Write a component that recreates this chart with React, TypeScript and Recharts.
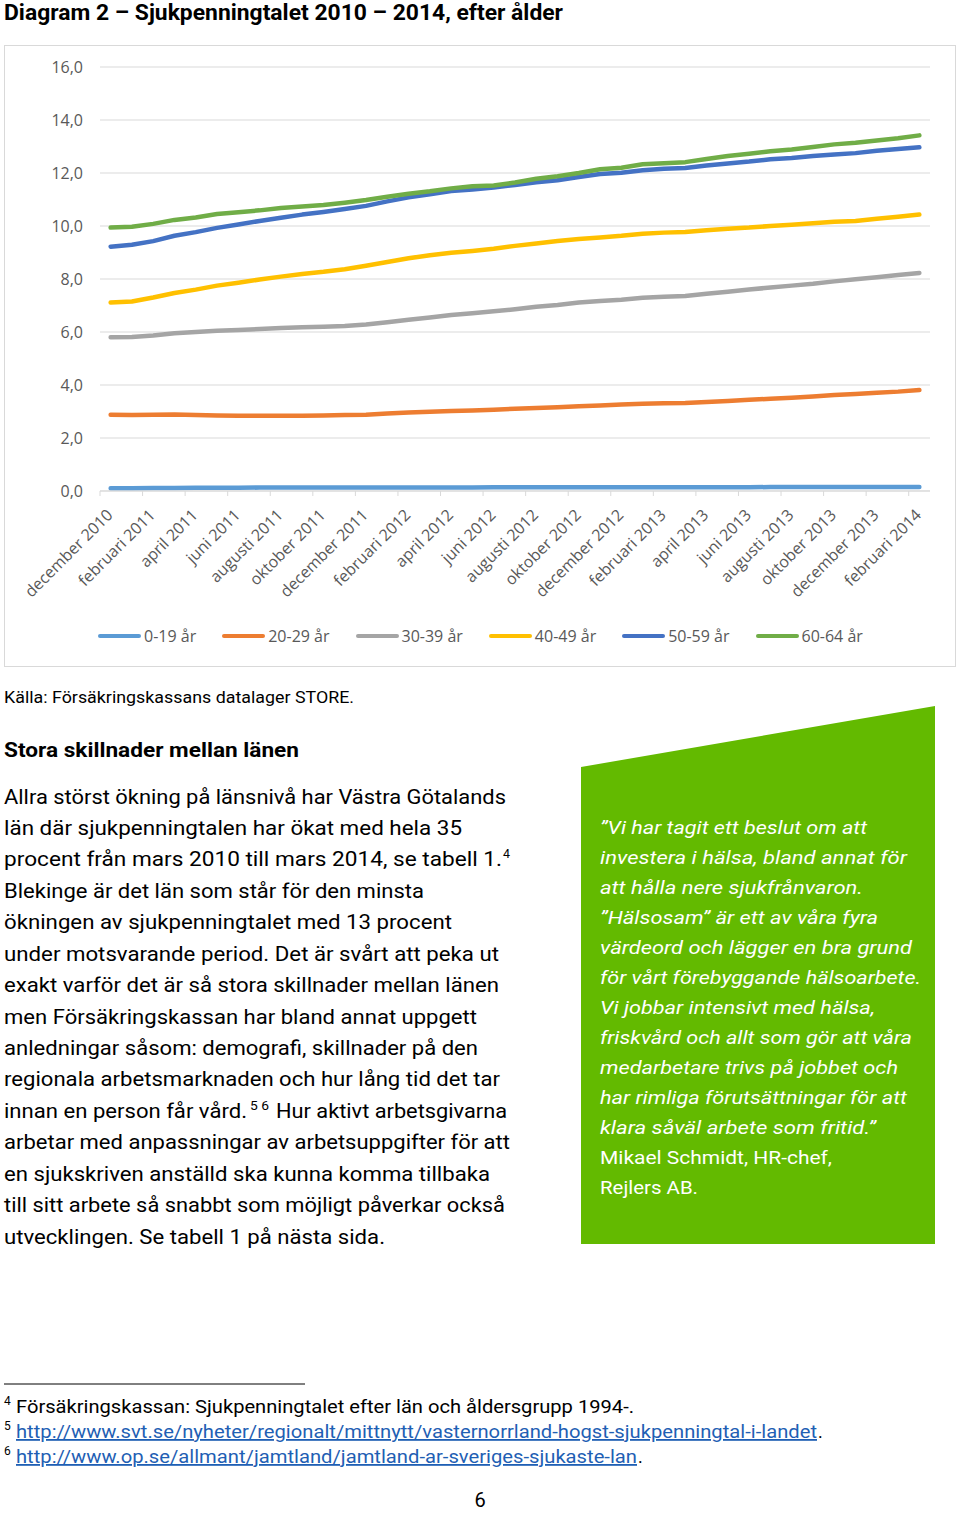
import React from 'react';
import { LineChart, Line, XAxis, YAxis, CartesianGrid, Legend } from 'recharts';

const months = [
  'december 2010', 'januari 2011', 'februari 2011', 'mars 2011', 'april 2011', 'maj 2011', 'juni 2011', 'juli 2011',
  'augusti 2011', 'september 2011', 'oktober 2011', 'november 2011', 'december 2011', 'januari 2012', 'februari 2012',
  'mars 2012', 'april 2012', 'maj 2012', 'juni 2012', 'juli 2012', 'augusti 2012', 'september 2012', 'oktober 2012',
  'november 2012', 'december 2012', 'januari 2013', 'februari 2013', 'mars 2013', 'april 2013', 'maj 2013', 'juni 2013',
  'juli 2013', 'augusti 2013', 'september 2013', 'oktober 2013', 'november 2013', 'december 2013', 'januari 2014',
  'februari 2014',
];

const age0_19 = [0.10, 0.10, 0.11, 0.11, 0.12, 0.12, 0.12, 0.13, 0.13, 0.13, 0.13, 0.13, 0.13, 0.13, 0.13, 0.13, 0.13, 0.13, 0.14, 0.14, 0.14, 0.14, 0.14, 0.14, 0.14, 0.14, 0.14, 0.14, 0.14, 0.14, 0.14, 0.15, 0.15, 0.15, 0.15, 0.15, 0.15, 0.15, 0.15];
const age20_29 = [2.88, 2.87, 2.88, 2.89, 2.87, 2.85, 2.84, 2.84, 2.84, 2.84, 2.85, 2.87, 2.88, 2.92, 2.96, 2.99, 3.02, 3.04, 3.07, 3.10, 3.13, 3.16, 3.20, 3.23, 3.26, 3.29, 3.31, 3.32, 3.36, 3.40, 3.44, 3.48, 3.52, 3.57, 3.62, 3.66, 3.71, 3.75, 3.81];
const age30_39 = [5.80, 5.81, 5.87, 5.95, 6.00, 6.05, 6.08, 6.11, 6.15, 6.18, 6.20, 6.23, 6.28, 6.37, 6.46, 6.55, 6.64, 6.71, 6.78, 6.86, 6.95, 7.02, 7.11, 7.17, 7.22, 7.29, 7.33, 7.36, 7.44, 7.52, 7.60, 7.68, 7.75, 7.82, 7.91, 7.99, 8.07, 8.15, 8.23];
const age40_49 = [7.11, 7.15, 7.30, 7.47, 7.60, 7.75, 7.86, 7.98, 8.09, 8.19, 8.27, 8.37, 8.50, 8.64, 8.78, 8.90, 8.99, 9.06, 9.14, 9.25, 9.34, 9.43, 9.51, 9.57, 9.63, 9.71, 9.75, 9.77, 9.84, 9.90, 9.94, 10.00, 10.05, 10.10, 10.16, 10.19, 10.27, 10.35, 10.43];
const age50_59 = [9.22, 9.29, 9.43, 9.63, 9.77, 9.93, 10.06, 10.19, 10.31, 10.43, 10.53, 10.64, 10.76, 10.93, 11.08, 11.20, 11.32, 11.38, 11.45, 11.55, 11.65, 11.73, 11.85, 11.96, 12.01, 12.10, 12.16, 12.19, 12.28, 12.36, 12.43, 12.52, 12.57, 12.64, 12.70, 12.75, 12.84, 12.91, 12.97];
const age60_64 = [9.94, 9.97, 10.08, 10.23, 10.32, 10.45, 10.52, 10.59, 10.68, 10.74, 10.79, 10.88, 10.98, 11.10, 11.22, 11.31, 11.42, 11.50, 11.53, 11.64, 11.78, 11.88, 12.00, 12.14, 12.20, 12.33, 12.37, 12.41, 12.53, 12.64, 12.73, 12.82, 12.89, 12.98, 13.08, 13.14, 13.23, 13.31, 13.42];

const seriesKeys = ['s0', 's1', 's2', 's3', 's4', 's5'];
const seriesNames = ['0-19 år', '20-29 år', '30-39 år', '40-49 år', '50-59 år', '60-64 år'];
const seriesColors = ['#5B9BD5', '#ED7D31', '#A5A5A5', '#FFC000', '#4472C4', '#70AD47'];
const yTicks = [0, 2, 4, 6, 8, 10, 12, 14, 16];

const seriesValues = [age0_19, age20_29, age30_39, age40_49, age50_59, age60_64];
const data = months.map((m, i) => {
  const row: Record<string, string | number> = { month: m };
  seriesKeys.forEach((k, j) => {
    row[k] = seriesValues[j][i];
  });
  return row;
});

const CHART_W = 952;
const CHART_H = 622;
const MARGIN = { top: 22, right: 26, bottom: 26, left: 0 };
const Y_W = 96;
const PLOT_W = CHART_W - MARGIN.left - MARGIN.right - Y_W;
const STEP = PLOT_W / months.length;
const AXIS_FONT = "'Open Sans', sans-serif";
const AXIS_COLOR = '#595959';
const GRID = '#d9d9d9';

function XTick(props: any) {
  const { x, y, payload } = props;
  const bx = x - STEP / 2;
  const ax = x + 3;
  const ay = y + 25;
  return (
    <g>
      <line x1={bx} y1={y} x2={bx} y2={y + 5} stroke={GRID} strokeWidth={1} />
      <text
        x={ax}
        y={ay}
        transform={`rotate(-45 ${ax} ${ay})`}
        textAnchor="end"
        fill={AXIS_COLOR}
        fontSize={16}
        fontFamily={AXIS_FONT}
      >
        {payload.value}
      </text>
    </g>
  );
}

function renderLegend(props: any) {
  const { payload } = props;
  return (
    <div style={{ display: 'flex', alignItems: 'center', paddingLeft: 94, gap: 26, height: 24 }}>
      {(payload || []).map((item: any) => (
        <div key={item.value} style={{ display: 'flex', alignItems: 'center' }}>
          <div style={{ width: 43, height: 4.5, background: item.color, borderRadius: 2 }} />
          <span style={{ marginLeft: 3, fontSize: 16, color: AXIS_COLOR, fontFamily: AXIS_FONT, lineHeight: '24px' }}>
            {item.value}
          </span>
        </div>
      ))}
    </div>
  );
}

const BODY = "Roboto, sans-serif";

function T(p: {
  x: number; y: number; w?: number; size: number; weight?: number; italic?: boolean;
  fill?: string; underline?: boolean; anchor?: string; children: React.ReactNode;
}) {
  return (
    <text
      x={p.x}
      y={p.y}
      textLength={p.w}
      lengthAdjust={p.w ? 'spacingAndGlyphs' : undefined}
      fontSize={p.size}
      fontWeight={p.weight || 400}
      fontStyle={p.italic ? 'italic' : 'normal'}
      fill={p.fill || '#000'}
      fontFamily={BODY}
      textAnchor={p.anchor || 'start'}
      style={p.underline ? { textDecoration: 'underline' } : undefined}
    >
      {p.children}
    </text>
  );
}

const bodyLines: [string, number][] = [
  ['Allra störst ökning på länsnivå har Västra Götalands', 502],
  ['län där sjukpenningtalen har ökat med hela 35', 458],
  ['procent från mars 2010 till mars 2014, se tabell 1.', 498],
  ['Blekinge är det län som står för den minsta', 420],
  ['ökningen av sjukpenningtalet med 13 procent', 448],
  ['under motsvarande period. Det är svårt att peka ut', 495],
  ['exakt varför det är så stora skillnader mellan länen', 495],
  ['men Försäkringskassan har bland annat uppgett', 473],
  ['anledningar såsom: demografi, skillnader på den', 474],
  ['regionala arbetsmarknaden och hur lång tid det tar', 496],
  ['innan en person får vård.', 243],
  ['arbetar med anpassningar av arbetsuppgifter för att', 506],
  ['en sjukskriven anställd ska kunna komma tillbaka', 486],
  ['till sitt arbete så snabbt som möjligt påverkar också', 501],
  ['utvecklingen. Se tabell 1 på nästa sida.', 381],
];

const quoteLines: [string, number, boolean][] = [
  ['\u201DVi har tagit ett beslut om att', 267, true],
  ['investera i hälsa, bland annat för', 307, true],
  ['att hålla nere sjukfrånvaron.', 263, true],
  ['\u201DHälsosam\u201D är ett av våra fyra', 278, true],
  ['värdeord och lägger en bra grund', 312, true],
  ['för vårt förebyggande hälsoarbete.', 321, true],
  ['Vi jobbar intensivt med hälsa,', 275, true],
  ['friskvård och allt som gör att våra', 312, true],
  ['medarbetare trivs på jobbet och', 298, true],
  ['har rimliga förutsättningar för att', 307, true],
  ['klara såväl arbete som fritid.\u201D', 276, true],
  ['Mikael Schmidt, HR-chef,', 232, false],
  ['Rejlers AB.', 98, false],
];

export default function App() {
  const LINK = '#1F5FB4';
  return (
    <div style={{ position: 'absolute', left: 0, top: 0, width: 960, height: 1513, background: '#fff' }}>
      <svg width={960} height={1513} style={{ position: 'absolute', left: 0, top: 0 }}>
        <T x={4} y={20} w={559} size={22} weight={700}>Diagram 2 – Sjukpenningtalet 2010 – 2014, efter ålder</T>
        <T x={4} y={703} w={350} size={16}>Källa: Försäkringskassans datalager STORE.</T>
        <T x={4} y={757} w={295} size={21} weight={700}>Stora skillnader mellan länen</T>
        {bodyLines.map(([t, w], i) => (
          <T key={i} x={4} y={803.5 + 31.43 * i} w={w} size={21}>{t}</T>
        ))}
        <T x={503} y={803.5 + 31.43 * 2 - 8} w={7} size={12}>4</T>
        <T x={250} y={803.5 + 31.43 * 10 - 8} w={19} size={12}>5 6</T>
        <T x={276} y={803.5 + 31.43 * 10} w={231} size={21}>Hur aktivt arbetsgivarna</T>

        <polygon points="581,767 935,706 935,1244 581,1244" fill="#63BA00" />
        {quoteLines.map(([t, w, it], i) => (
          <T key={i} x={600} y={833.5 + 30 * i} w={w} size={19} italic={it} fill="#fff">{t}</T>
        ))}

        <line x1={4} y1={1384} x2={305} y2={1384} stroke="#000" strokeWidth={1} />
        <T x={4} y={1405} size={12}>4</T>
        <T x={16} y={1413} w={618} size={18}>Försäkringskassan: Sjukpenningtalet efter län och åldersgrupp 1994-.</T>
        <T x={4} y={1430} size={12}>5</T>
        <T x={16} y={1438} w={801} size={18} fill={LINK} underline>http://www.svt.se/nyheter/regionalt/mittnytt/vasternorrland-hogst-sjukpenningtal-i-landet</T>
        <T x={818} y={1438} size={18}>.</T>
        <T x={4} y={1455} size={12}>6</T>
        <T x={16} y={1463} w={621} size={18} fill={LINK} underline>http://www.op.se/allmant/jamtland/jamtland-ar-sveriges-sjukaste-lan</T>
        <T x={638} y={1463} size={18}>.</T>
        <T x={480} y={1507} size={20} anchor="middle">6</T>
      </svg>

      <div style={{ position: 'absolute', left: 4, top: 45, width: CHART_W, height: CHART_H, border: `1px solid ${GRID}`, boxSizing: 'border-box', background: '#fff' }} />
      <div style={{ position: 'absolute', left: 4, top: 45, width: CHART_W, height: CHART_H }}>
        <LineChart width={CHART_W} height={CHART_H} data={data} margin={MARGIN}>
          <CartesianGrid vertical={false} stroke={GRID} strokeWidth={1} />
          <XAxis
            dataKey="month"
            scale="point"
            padding={{ left: STEP / 2, right: STEP / 2 }}
            interval={1}
            height={150}
            tickLine={false}
            tickSize={0}
            tickMargin={0}
            axisLine={{ stroke: GRID, strokeWidth: 1 }}
            tick={<XTick />}
          />
          <YAxis
            width={Y_W}
            domain={[0, 16]}
            ticks={yTicks}
            axisLine={false}
            tickLine={false}
            tickSize={0}
            tickMargin={17}
            tick={{ fill: AXIS_COLOR, fontSize: 16, fontFamily: AXIS_FONT }}
            tickFormatter={(v: number) => v.toFixed(1).replace('.', ',')}
          />
          <Legend
            verticalAlign="middle"
            align="center"
            layout="horizontal"
            content={renderLegend}
            wrapperStyle={{ top: 579, left: 0, width: CHART_W, height: 24 }}
          />
          {seriesKeys.map((k, j) => (
            <Line
              key={k}
              type="linear"
              dataKey={k}
              name={seriesNames[j]}
              stroke={seriesColors[j]}
              strokeWidth={4.5}
              strokeLinecap="round"
              strokeLinejoin="round"
              dot={false}
              activeDot={false}
              isAnimationActive={false}
            />
          ))}
        </LineChart>
      </div>
    </div>
  );
}
